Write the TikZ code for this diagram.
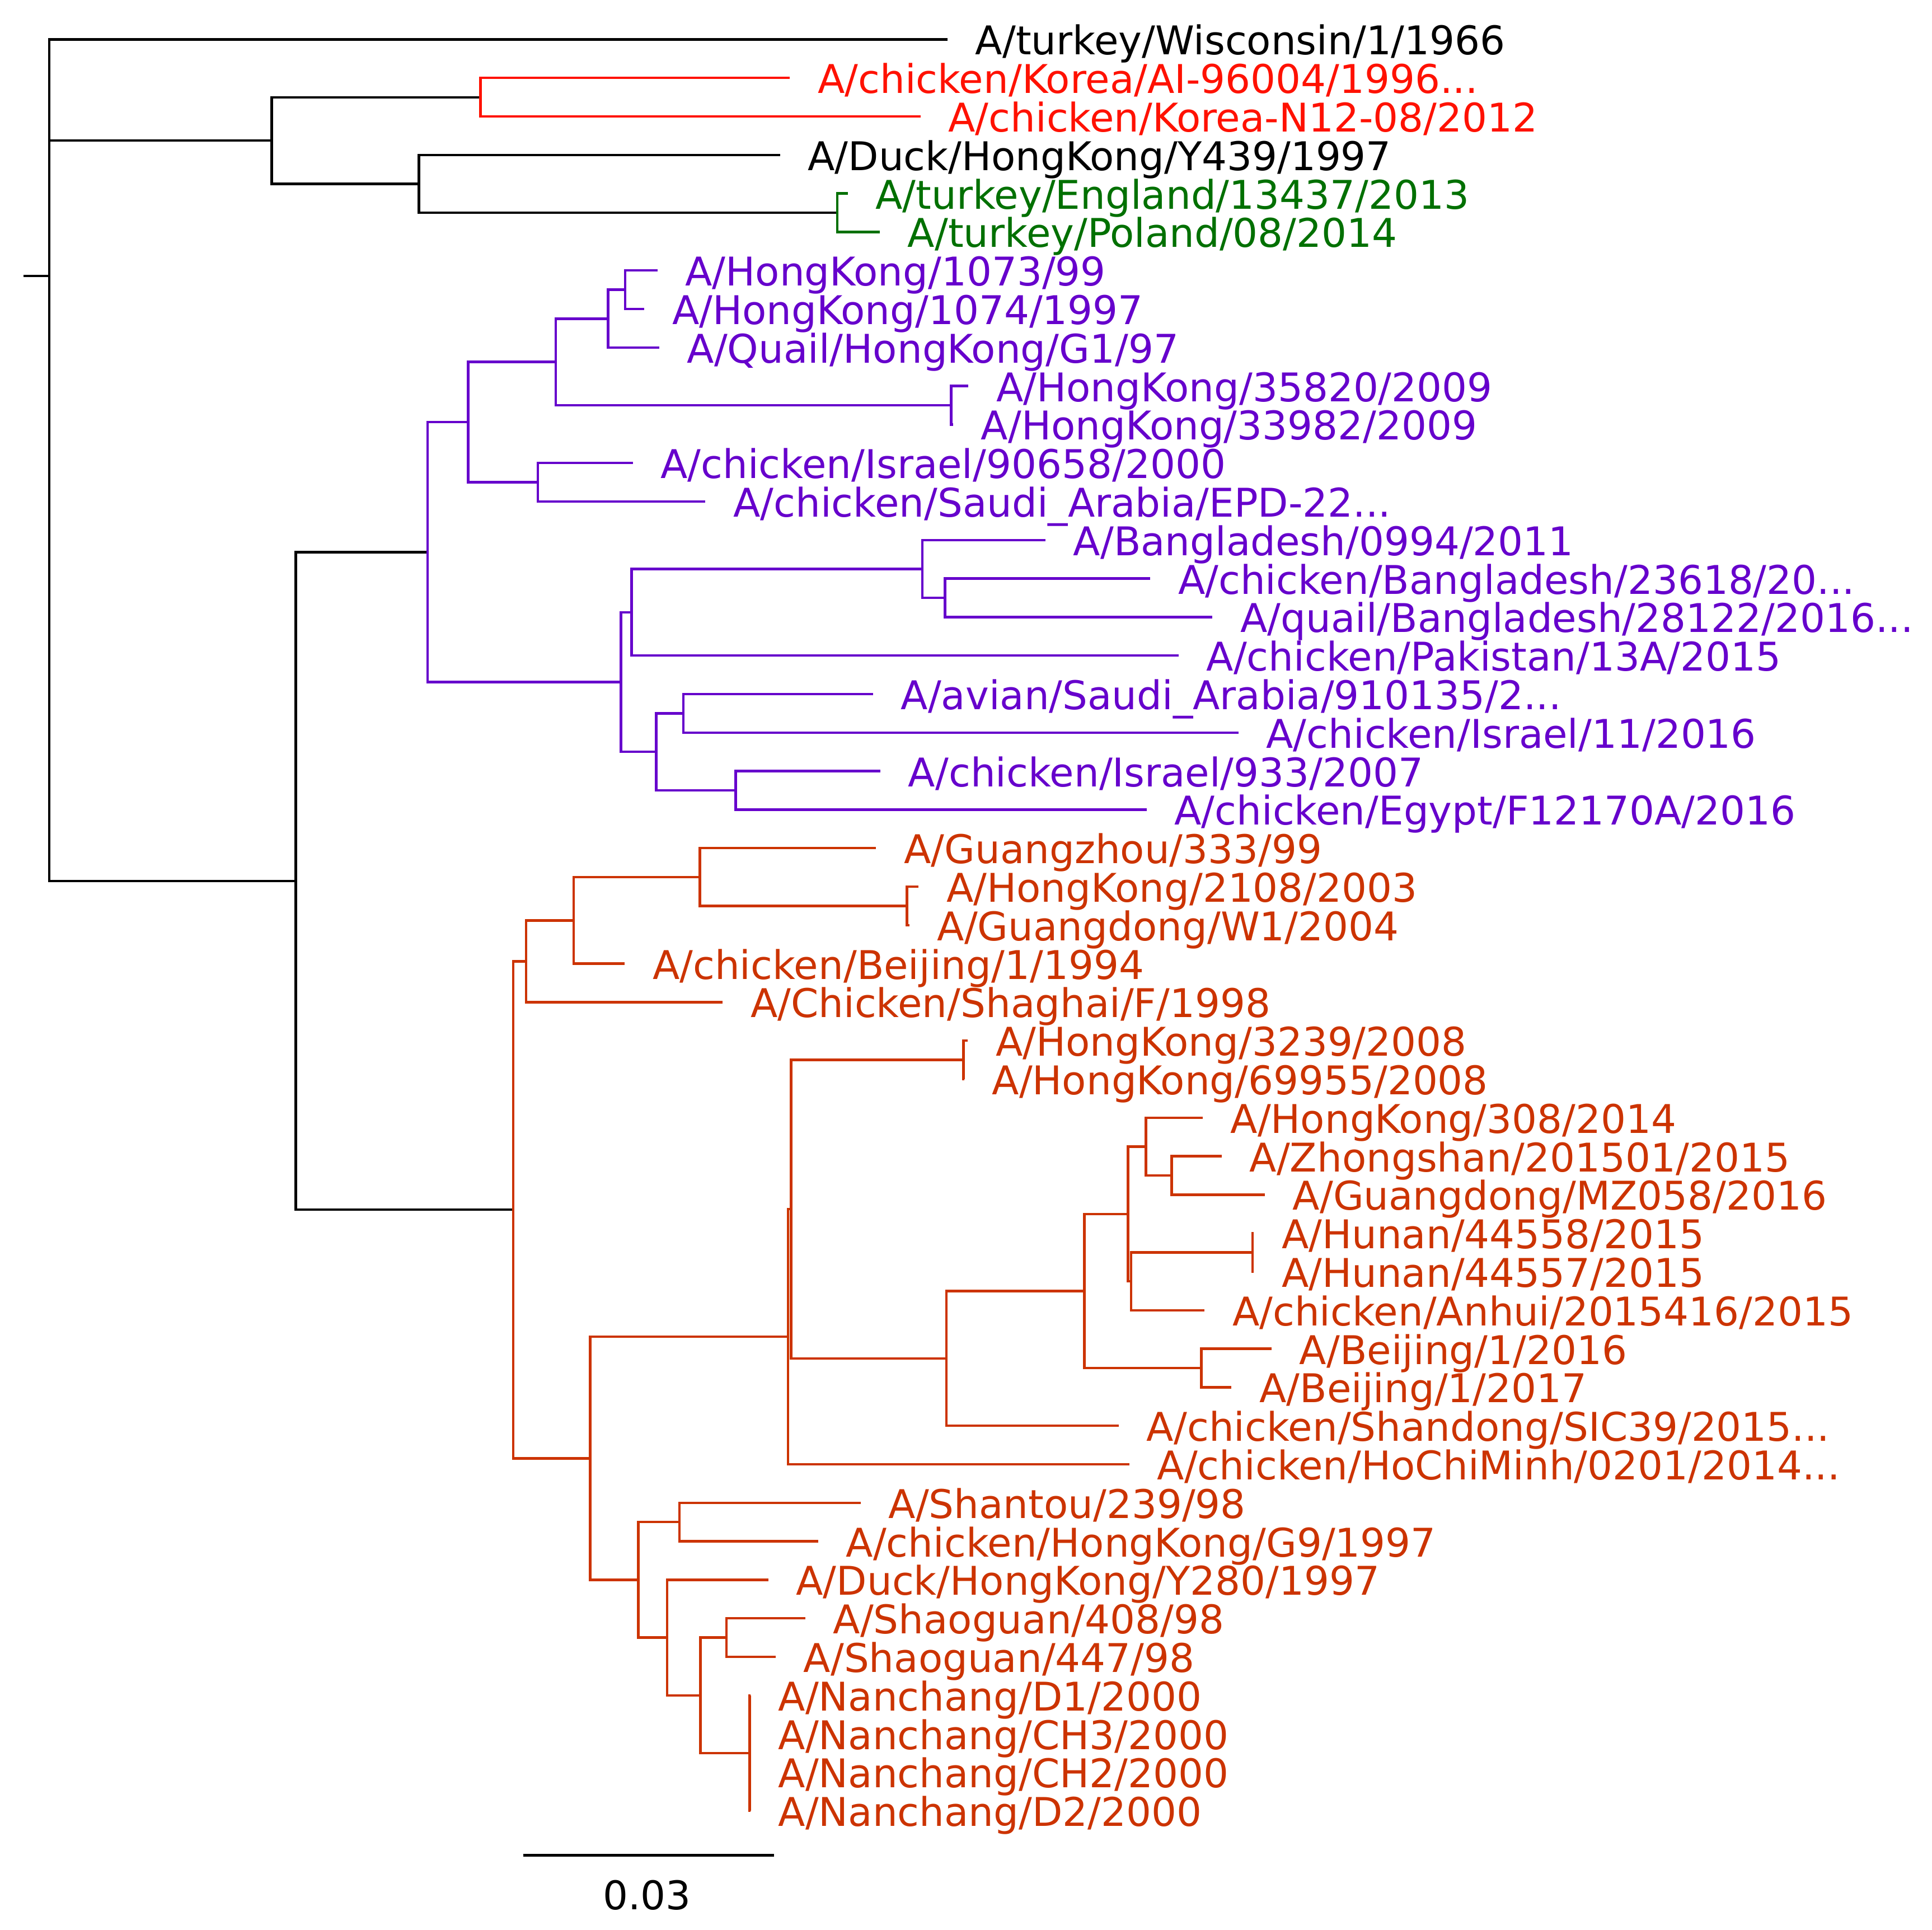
\documentclass[tikz,border=0pt]{standalone}
\usepackage{fontspec}
\setmainfont{DejaVu Sans}
\definecolor{cred}{RGB}{255,17,0}
\definecolor{cgreen}{RGB}{0,112,0}
\definecolor{cpur}{RGB}{102,0,204}
\definecolor{corg}{RGB}{204,51,0}
\newcommand\lblfont{\fontsize{32.1}{38}\selectfont}
\newcommand\tleaf[5]{%
  \coordinate (#1) at (#2,#3);
  \node[lab,text=#4] (#1t) at ({#2+22.5},{#3+12.5}) {#5};}
\tikzset{
  br/.style={line width=2pt, line join=miter},
  lab/.style={anchor=base west, inner sep=0pt, font=\lblfont}
}
\begin{document}
\begin{tikzpicture}[x=1pt,y=-1pt]
\useasboundingbox (0,0) rectangle (1568,1566);
% leaves
\tleaf{l1}{769}{32}{black}{A/turkey/Wisconsin/1/1966}
\tleaf{l2}{641}{63.25}{cred}{A/chicken/Korea/AI-96004/1996...}
\tleaf{l3}{747}{94.5}{cred}{A/chicken/Korea-N12-08/2012}
\tleaf{l4}{633}{125.75}{black}{A/Duck/HongKong/Y439/1997}
\tleaf{l5}{688}{157}{cgreen}{A/turkey/England/13437/2013}
\tleaf{l6}{714}{188.25}{cgreen}{A/turkey/Poland/08/2014}
\tleaf{l7}{533.5}{219.5}{cpur}{A/HongKong/1073/99}
\tleaf{l8}{523}{250.75}{cpur}{A/HongKong/1074/1997}
\tleaf{l9}{535}{282}{cpur}{A/Quail/HongKong/G1/97}
\tleaf{l10}{786}{313.25}{cpur}{A/HongKong/35820/2009}
\tleaf{l11}{773.5}{344.5}{cpur}{A/HongKong/33982/2009}
\tleaf{l12}{513.5}{375.75}{cpur}{A/chicken/Israel/90658/2000}
\tleaf{l13}{572.5}{407}{cpur}{A/chicken/Saudi\_Arabia/EPD-22...}
\tleaf{l14}{848.5}{438.25}{cpur}{A/Bangladesh/0994/2011}
\tleaf{l15}{933.5}{469.5}{cpur}{A/chicken/Bangladesh/23618/20...}
\tleaf{l16}{984}{500.75}{cpur}{A/quail/Bangladesh/28122/2016...}
\tleaf{l17}{956.5}{532}{cpur}{A/chicken/Pakistan/13A/2015}
\tleaf{l18}{708.5}{563.25}{cpur}{A/avian/Saudi\_Arabia/910135/2...}
\tleaf{l19}{1005}{594.5}{cpur}{A/chicken/Israel/11/2016}
\tleaf{l20}{714.5}{625.75}{cpur}{A/chicken/Israel/933/2007}
\tleaf{l21}{930.5}{657}{cpur}{A/chicken/Egypt/F12170A/2016}
\tleaf{l22}{711}{688.25}{corg}{A/Guangzhou/333/99}
\tleaf{l23}{745.5}{719.5}{corg}{A/HongKong/2108/2003}
\tleaf{l24}{738}{750.75}{corg}{A/Guangdong/W1/2004}
\tleaf{l25}{507}{782}{corg}{A/chicken/Beijing/1/1994}
\tleaf{l26}{586.5}{813.25}{corg}{A/Chicken/Shaghai/F/1998}
\tleaf{l27}{785.5}{844.5}{corg}{A/HongKong/3239/2008}
\tleaf{l28}{782.5}{875.75}{corg}{A/HongKong/69955/2008}
\tleaf{l29}{976}{907}{corg}{A/HongKong/308/2014}
\tleaf{l30}{991.5}{938.25}{corg}{A/Zhongshan/201501/2015}
\tleaf{l31}{1026.5}{969.5}{corg}{A/Guangdong/MZ058/2016}
\tleaf{l32}{1017.5}{1000.75}{corg}{A/Hunan/44558/2015}
\tleaf{l33}{1017.5}{1032}{corg}{A/Hunan/44557/2015}
\tleaf{l34}{977.5}{1063.25}{corg}{A/chicken/Anhui/2015416/2015}
\tleaf{l35}{1032}{1094.5}{corg}{A/Beijing/1/2016}
\tleaf{l36}{999.5}{1125.75}{corg}{A/Beijing/1/2017}
\tleaf{l37}{908}{1157}{corg}{A/chicken/Shandong/SIC39/2015...}
\tleaf{l38}{916.5}{1188.25}{corg}{A/chicken/HoChiMinh/0201/2014...}
\tleaf{l39}{698.5}{1219.5}{corg}{A/Shantou/239/98}
\tleaf{l40}{664}{1250.75}{corg}{A/chicken/HongKong/G9/1997}
\tleaf{l41}{623.5}{1282}{corg}{A/Duck/HongKong/Y280/1997}
\tleaf{l42}{653.5}{1313.25}{corg}{A/Shaoguan/408/98}
\tleaf{l43}{629.5}{1344.5}{corg}{A/Shaoguan/447/98}
\tleaf{l44}{609}{1375.75}{corg}{A/Nanchang/D1/2000}
\tleaf{l45}{609}{1407}{corg}{A/Nanchang/CH3/2000}
\tleaf{l46}{609}{1438.25}{corg}{A/Nanchang/CH2/2000}
\tleaf{l47}{609}{1469.5}{corg}{A/Nanchang/D2/2000}
% internal nodes
\coordinate (rs) at (19,224);
\coordinate (root) at (40,224);
\coordinate (nK) at (390,78.9);
\coordinate (nG) at (679.5,172.6);
\coordinate (nD) at (340,149.2);
\coordinate (nA) at (220.5,114);
\coordinate (nBig) at (240,714.9);
\coordinate (p1) at (507.5,235.1);
\coordinate (p2) at (493.5,258.6);
\coordinate (p3) at (772,328.9);
\coordinate (p4) at (451,293.7);
\coordinate (p5) at (436.5,391.4);
\coordinate (p6) at (380,342.6);
\coordinate (p7) at (767,485.1);
\coordinate (p8) at (748.5,461.7);
\coordinate (p9) at (512.5,496.8);
\coordinate (p10) at (554.5,578.9);
\coordinate (p11) at (597,641.4);
\coordinate (p12) at (532.5,610.1);
\coordinate (p13) at (504,553.5);
\coordinate (p14) at (347,448);
\coordinate (o1) at (736,735.1);
\coordinate (o2) at (568,711.7);
\coordinate (o3) at (465.5,746.9);
\coordinate (o4) at (427,780.1);
\coordinate (o5) at (782,860.1);
\coordinate (o6) at (951,953.9);
\coordinate (o7) at (930,930.4);
\coordinate (o8) at (1016.5,1016.4);
\coordinate (o9) at (918,1039.8);
\coordinate (o10) at (915.5,985.1);
\coordinate (o11) at (975,1110.1);
\coordinate (o12) at (880,1047.6);
\coordinate (o13) at (768,1102.3);
\coordinate (o14) at (642,981.2);
\coordinate (o15) at (639.5,1084.7);
\coordinate (o16) at (551.5,1235.1);
\coordinate (o17) at (589.5,1328.9);
\coordinate (o18) at (608.5,1422.6);
\coordinate (o19) at (568.5,1375.8);
\coordinate (o20) at (541.5,1328.9);
\coordinate (o21) at (518,1282);
\coordinate (o22) at (479,1183.4);
\coordinate (o23) at (416.5,981.7);
% black branches
\draw[br,black] (rs) -- (root)
  (root) |- (l1) (root) |- (nA) (root) |- (nBig)
  (nA) |- (nK) (nA) |- (nD)
  (nD) |- (l4) (nD) |- (nG)
  (nBig) |- (p14) (nBig) |- (o23);
% red
\draw[br,cred] (nK) |- (l2) (nK) |- (l3);
% green
\draw[br,cgreen] (nG) |- (l5) (nG) |- (l6);
% purple
\draw[br,cpur] (p14) |- (p6) (p14) |- (p13)
  (p6) |- (p4) (p6) |- (p5)
  (p4) |- (p2) (p4) |- (p3)
  (p2) |- (p1) (p2) |- (l9)
  (p1) |- (l7) (p1) |- (l8)
  (p3) |- (l10) (p3) |- (l11)
  (p5) |- (l12) (p5) |- (l13)
  (p13) |- (p9) (p13) |- (p12)
  (p9) |- (p8) (p9) |- (l17)
  (p8) |- (l14) (p8) |- (p7)
  (p7) |- (l15) (p7) |- (l16)
  (p12) |- (p10) (p12) |- (p11)
  (p10) |- (l18) (p10) |- (l19)
  (p11) |- (l20) (p11) |- (l21);
% orange
\draw[br,corg] (o23) |- (o4) (o23) |- (o22)
  (o4) |- (o3) (o4) |- (l26)
  (o3) |- (o2) (o3) |- (l25)
  (o2) |- (l22) (o2) |- (o1)
  (o1) |- (l23) (o1) |- (l24)
  (o22) |- (o15) (o22) |- (o21)
  (o15) |- (o14) (o15) |- (l38)
  (o14) |- (o5) (o14) |- (o13)
  (o5) |- (l27) (o5) |- (l28)
  (o13) |- (o12) (o13) |- (l37)
  (o12) |- (o10) (o12) |- (o11)
  (o10) |- (o7) (o10) |- (o9)
  (o7) |- (l29) (o7) |- (o6)
  (o6) |- (l30) (o6) |- (l31)
  (o9) |- (o8) (o9) |- (l34)
  (o8) |- (l32) (o8) |- (l33)
  (o11) |- (l35) (o11) |- (l36)
  (o21) |- (o16) (o21) |- (o20)
  (o16) |- (l39) (o16) |- (l40)
  (o20) |- (l41) (o20) |- (o19)
  (o19) |- (o17) (o19) |- (o18)
  (o17) |- (l42) (o17) |- (l43)
  (o18) |- (l44) (o18) |- (l45) (o18) |- (l46) (o18) |- (l47);
% scale bar
\coordinate (sbl) at (424.5,1505.5);
\coordinate (sbr) at (628,1505.5);
\draw[br,black] (sbl) -- (sbr);
\node[inner sep=0pt, anchor=base, font=\lblfont] (sbt) at (525,1549.5) {0.03};
\end{tikzpicture}
\end{document}
